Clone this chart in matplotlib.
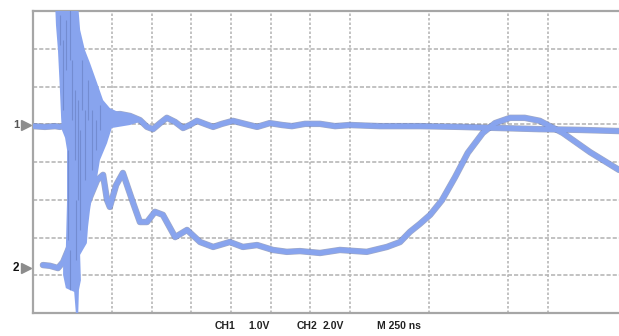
import numpy as np
import matplotlib
matplotlib.use("Agg")
import matplotlib.pyplot as plt

# screen units: x in divisions (250 ns/div), y in divisions from the bottom edge
ch1_t = [0, 0.30, 0.56, 0.68, 1.94, 2.20, 2.45, 2.70, 2.88, 3.03, 3.21, 3.38, 3.59,
         3.79, 3.96, 4.14, 4.34, 4.55, 4.77, 5.05, 5.35, 5.66, 5.98, 6.29, 6.54, 6.87,
         7.25, 7.63, 8.00, 8.76, 9.77, 10.78, 11.79, 12.80, 13.81, 14.80]
ch1_y = [4.95, 4.93, 4.95, 4.93, 5.25, 5.27, 5.22, 5.11, 4.93, 4.87, 5.03, 5.17, 5.06,
         4.90, 4.98, 5.09, 5.01, 4.93, 5.01, 5.09, 5.01, 4.93, 5.03, 4.98, 4.95, 5.01,
         5.01, 4.95, 4.98, 4.95, 4.95, 4.93, 4.90, 4.87, 4.85, 4.82]

ch2_t = [0.25, 0.43, 0.63, 0.76, 1.62, 1.77, 1.87, 1.94, 2.10, 2.27, 2.53, 2.70, 2.88,
         3.08, 3.28, 3.59, 3.89, 4.22, 4.55, 4.97, 5.30, 5.66, 6.06, 6.41, 6.74, 7.25,
         7.75, 8.43, 8.94, 9.27, 9.52, 9.77, 10.03, 10.33, 10.66, 10.98, 11.36, 11.67,
         12.05, 12.42, 12.80, 13.38, 14.07, 14.80]
ch2_y = [1.27, 1.25, 1.19, 1.35, 3.52, 3.66, 2.99, 2.81, 3.39, 3.71, 2.91, 2.41, 2.41,
         2.68, 2.60, 2.01, 2.20, 1.88, 1.75, 1.88, 1.75, 1.80, 1.67, 1.62, 1.64, 1.59,
         1.67, 1.62, 1.75, 1.88, 2.15, 2.36, 2.60, 2.99, 3.60, 4.24, 4.77, 5.03,
         5.17, 5.17, 5.09, 4.77, 4.26, 3.79]

# envelope of the switching burst (persistence area)
burst_t = [0.56, 1.14, 1.19, 1.31, 1.44, 1.62, 1.77, 1.94, 2.20, 2.58, 2.78, 2.45, 1.99,
           1.89, 1.87, 1.69, 1.62, 1.52, 1.44, 1.39, 1.36, 1.26, 1.19, 1.21, 1.16, 1.14,
           1.09, 1.04, 0.93, 0.83, 0.76, 0.76, 0.83, 0.86, 0.86, 0.81, 0.73, 0.71, 0.68,
           0.63, 0.58]
burst_y = [8.16, 8.16, 7.50, 6.97, 6.62, 6.09, 5.64, 5.43, 5.30, 5.22, 5.09, 4.98, 4.90,
           4.57, 4.50, 4.05, 3.60, 3.26, 2.73, 2.28, 1.85, 1.67, 1.54, 0.87, 0.61, -0.1,
           -0.1, 0.56, 0.61, 0.66, 1.01, 1.46, 1.72, 2.99, 4.32, 4.64, 4.85, 5.17, 5.91,
           6.97, 7.63]

streak_t = [0.68, 0.76, 0.83, 0.93, 0.98, 1.06, 1.14, 1.24, 1.31, 1.39, 1.49, 1.59, 1.69,
            1.09, 0.93, 1.19, 0.88]
streak_top = [7.89, 7.23, 7.76, 8.03, 6.70, 5.91, 5.64, 6.70, 5.38, 6.17, 5.38, 5.11, 5.51,
              2.99, 1.67, 4.85, 4.32]
streak_bot = [7.10, 5.38, 6.44, 6.70, 5.11, 4.05, 2.99, 5.38, 3.52, 5.11, 3.79, 4.32, 4.85,
              1.40, 0.61, 2.20, 1.93]

ch1_ref = 4.98
ch2_ref = 1.19
grid_x = [2, 3, 4, 5, 6, 7, 8, 10, 12, 13]
grid_y = [1, 2, 3, 4, 5, 6, 7]
labels = [("CH1", 215), ("1.0V", 248), ("CH2", 297), ("2.0V", 323), ("M 250 ns", 377)]

trace = "#88a4ee"
edge = "#44568f"
gridc = "#b8b8b8"

W, H = 619, 336
fig = plt.figure(figsize=(W / 100, H / 100), dpi=100)
ax = fig.add_axes([33 / W, 23 / H, (W - 33) / W, 302 / H])
ax.set_xlim(0, 14.80)
ax.set_ylim(0, 8)

for gx in grid_x:
    ax.axvline(gx, color=gridc, lw=1.2, ls=(0, (1.5, 1.2)), zorder=1)
for gy in grid_y:
    ax.axhline(gy, color=gridc, lw=1.2, ls=(0, (2.5, 1.2)), zorder=1)

for t, y in [(ch1_t, ch1_y), (ch2_t, ch2_y)]:
    ax.plot(t, y, color=edge, lw=4.6, alpha=0.5, solid_joinstyle="round",
            solid_capstyle="round", zorder=2)
    ax.plot(t, y, color=trace, lw=3.7, solid_joinstyle="round",
            solid_capstyle="round", zorder=3)

ax.fill(burst_t, burst_y, color=trace, lw=0, zorder=4)
ax.vlines(streak_t, streak_bot, streak_top, color=edge, lw=0.8, alpha=0.3, zorder=5)

ax.set_xticks([])
ax.set_yticks([])
for side in ["top", "bottom", "left"]:
    ax.spines[side].set_color("#a6a6a6")
    ax.spines[side].set_linewidth(1.6)
ax.spines["right"].set_visible(False)

# channel reference markers
ax.plot([-0.18], [ch1_ref], marker=">", ms=7, color="#8c8c8c", clip_on=False)
ax.plot([-0.18], [ch2_ref], marker=">", ms=7, color="#8c8c8c", clip_on=False)
ax.text(-0.34, ch1_ref, "1", ha="right", va="center", fontsize=8,
        fontweight="bold", color="#555555", family="Liberation Sans")
ax.text(-0.34, ch2_ref, "2", ha="right", va="center", fontsize=8.5,
        fontweight="bold", color="#111111", family="Liberation Sans")

for txt, px in labels:
    fig.text(px / W, 10 / H, txt, ha="left", va="center", fontsize=7.5,
             fontweight="bold", color="#222222", family="Liberation Sans")

fig.savefig("out.png", dpi=100)
